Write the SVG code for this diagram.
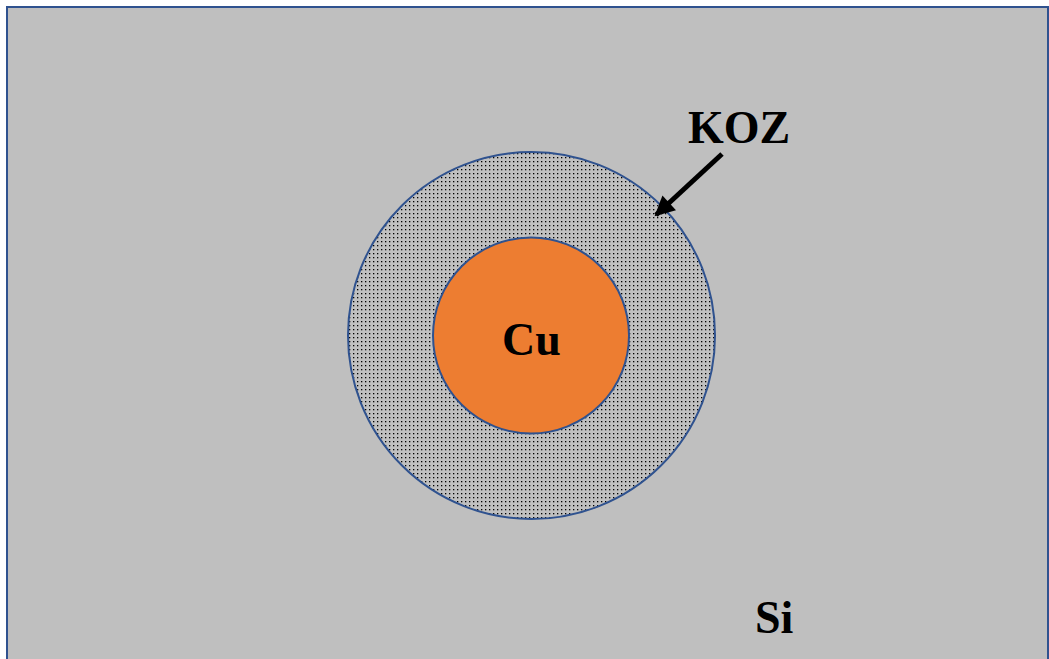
<svg xmlns="http://www.w3.org/2000/svg" width="1049" height="659" viewBox="0 0 1049 659">
<style>
.lbl{font-family:'Liberation Serif','Times New Roman',Times,serif;font-weight:700;font-size:46px;fill:#000}
.edge{stroke:#2f528f;stroke-width:2}
</style>
<defs>
<pattern id="dots" width="4" height="4" patternUnits="userSpaceOnUse">
<rect width="4" height="4" fill="#c0c0c0"/>
<rect x="1" y="1" width="1.3" height="1.3" fill="#000"/>
</pattern>
<marker id="ah" viewBox="0 0 10 10" refX="9" refY="5" markerWidth="4.4" markerHeight="4" orient="auto" markerUnits="strokeWidth">
<path d="M0,0 L10,5 L0,10 z" fill="#000"/>
</marker>
</defs>
<g id="si">
<rect x="7" y="7" width="1041" height="660" fill="#bfbfbf" class="edge"/>
<text class="lbl" font-family="Liberation Serif" x="755" y="633">Si</text>
</g>
<g id="koz">
<circle cx="531.5" cy="335.5" r="183.5" fill="url(#dots)" class="edge"/>
<text class="lbl" font-family="Liberation Serif" x="688" y="143">KOZ</text>
</g>
<g id="cu">
<circle cx="531" cy="335.5" r="98" fill="#ed7d31" class="edge"/>
<text class="lbl" font-family="Liberation Serif" x="531.5" y="355" text-anchor="middle">Cu</text>
</g>
<g id="connectors">
<line x1="722" y1="154" x2="656" y2="215" stroke="#000" stroke-width="5" marker-end="url(#ah)"/>
</g>
</svg>
